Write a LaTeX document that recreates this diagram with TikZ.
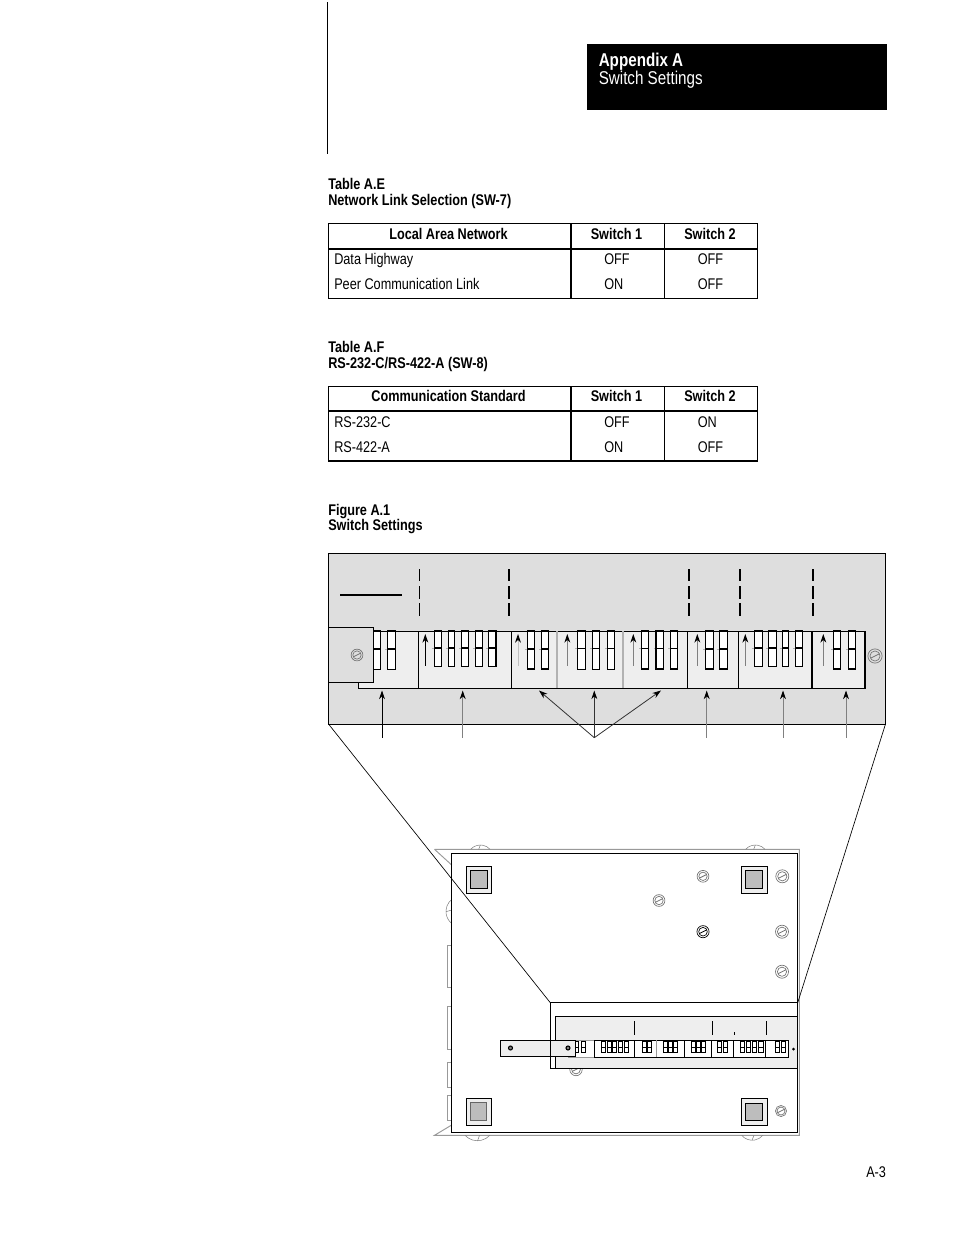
\documentclass[tikz,border=0pt]{standalone}
\usepackage{fontspec}
\setmainfont[FakeStretch=0.82]{Liberation Sans}
\usetikzlibrary{arrows.meta}
\definecolor{panelgray}{HTML}{DEDEDE}
\definecolor{striplight}{HTML}{EEEEEE}
\definecolor{padgray}{HTML}{BDBDBD}
\tikzset{
  txt/.style={anchor=base west,inner sep=0pt,font=\fontsize{11.6pt}{14pt}\selectfont},
  btxt/.style={txt,font=\fontsize{11.6pt}{14pt}\selectfont\bfseries},
  ctr/.style={anchor=base},
  rule/.style={line width=0.75pt},
  fat/.style={line width=1.5pt},
  dip/.style={draw=black,fill=white,line width=0.8pt},
  up/.style={-{Stealth[black,length=6.5pt,width=4.4pt]},line width=0.6pt},
  backline/.style={draw=black!40,line width=0.7pt},
  bump/.style={draw=black!50,line width=0.4pt},
  pics/screwhead/.style={code={
    \draw[#1,line width=0.5pt] (0,0) circle (6.2) (0,0) circle (4.4);
    \draw[#1,line width=0.6pt] (-4,2) -- (4,-2);
  }},
  pics/screwhead/.default=black!55
}
\begin{document}
\begin{tikzpicture}[x=0.75pt,y=-0.75pt]
  \useasboundingbox (0,0) rectangle (954,1235);
  % header
  \draw[rule] (327,2) -- (327,154);
  \fill[black] (587,44) rectangle (887,110);
  \node[btxt,white,font=\fontsize{13.9pt}{16pt}\selectfont\bfseries] (appx) at (598.5,66) {Appendix A};
  \node[txt,white,font=\fontsize{13.9pt}{16pt}\selectfont] (appxsub) at (598.5,84) {Switch Settings};
  % table E
  \node[btxt] (tabE) at (328,189) {Table A.E};
  \node[btxt] (tabEsub) at (328,205) {Network Link Selection (SW-7)};
  \draw[rule] (328.5,223.5) rectangle (757.5,298.5);
  \draw[fat] (328.5,249) -- (757.5,249) (571,223.5) -- (571,298.5);
  \draw[rule] (664.5,223.5) -- (664.5,298.5);
  \node[btxt,ctr] (eh1) at (448.5,239) {Local Area Network};
  \node[btxt,ctr] (eh2) at (616.5,239) {Switch 1};
  \node[btxt,ctr] (eh3) at (710,239) {Switch 2};
  \node[txt] (ea1) at (334,264) {Data Highway};
  \node[txt] (ea2) at (604,264) {OFF};
  \node[txt] (ea3) at (697.5,264) {OFF};
  \node[txt] (eb1) at (334,289) {Peer Communication Link};
  \node[txt] (eb2) at (604,289) {ON};
  \node[txt] (eb3) at (697.5,289) {OFF};
  % table F
  \node[btxt] (tabF) at (328,352) {Table A.F};
  \node[btxt] (tabFsub) at (328,368) {RS-232-C/RS-422-A (SW-8)};
  \draw[rule] (328.5,386.5) rectangle (757.5,461);
  \draw[fat] (328.5,411) -- (757.5,411) (571,386.5) -- (571,461) (328.5,461) -- (757.5,461);
  \draw[rule] (664.5,386.5) -- (664.5,461);
  \node[btxt,ctr] (fh1) at (448.5,401) {Communication Standard};
  \node[btxt,ctr] (fh2) at (616.5,401) {Switch 1};
  \node[btxt,ctr] (fh3) at (710,401) {Switch 2};
  \node[txt] (fa1) at (334,427) {RS-232-C};
  \node[txt] (fa2) at (604,427) {OFF};
  \node[txt] (fa3) at (697.5,427) {ON};
  \node[txt] (fb1) at (334,452) {RS-422-A};
  \node[txt] (fb2) at (604,452) {ON};
  \node[txt] (fb3) at (697.5,452) {OFF};
  % figure title
  \node[btxt] (fig) at (328,515) {Figure A.1};
  \node[btxt] (figsub) at (328,530) {Switch Settings};
  \node[txt] (pageno) at (866,1177) {A-3};
  % big panel
  \coordinate (panelNW) at (328.5,553.5);
  \coordinate (panelSE) at (885.5,724);
  \coordinate (panelSW) at (328.5,724);
  \draw[rule,fill=panelgray] (panelNW) rectangle (panelSE);
  \draw[fat] (340,595) -- (402,595);
  \foreach \xd/\wd in {419.5/0.6,509/1.4,689/1.4,740/1.4,813/1.4}
    \foreach \ya/\yb in {569/581,586/599,603/616}
      \draw[line width=\wd pt] (\xd,\ya) -- (\xd,\yb);
  \draw[rule,fill=striplight] (358.5,631) rectangle (865,688.3);
  \foreach \xd/\cd/\wd in {418.5/black/0.75,511/black/0.75,557/black!30/1,623/black!30/1,687.5/black/0.75,738.5/black/0.75,812/black/1.5,865/black/1.5}
    \draw[\cd,line width=\wd pt] (\xd,631) -- (\xd,688.3);
  \foreach \xa/\xb/\yb/\ym in {
    373.7/380.7/669.3/649,387.7/395.3/669.3/649,
    434.3/441.3/666.3/648,448.3/454.3/666.3/648,461.3/468.3/666.3/648,475.3/482.3/666.3/648,488.3/496/666.3/648,
    527.3/534.7/669/649,541.3/548.3/669/649,
    577.7/585.7/669.3/648.5,592.3/599.3/669.3/648.5,607.3/614.7/669.3/648.5,
    641.7/648.7/669/648.5,656/663.3/669/648.5,670.3/677.3/669/648.5,
    705.7/713.7/669/649,719.3/727.3/669/649,
    754.3/762.3/666.3/648,768.3/776.3/666.3/648,782.3/788.7/666.3/648,795.3/802.3/666.3/648,
    833.3/840.3/669/649,848.3/855.3/669/649}{
    \draw[black!30,line width=0.5pt] (\xa-2.5,\ym) -- (\xa,\ym);
    \draw[dip] (\xa,631) rectangle (\xb,\yb) (\xa,\ym) -- (\xb,\ym);
  }
  \foreach \xu/\cu [count=\i] in {425.3/black,518/black!25,567.3/black!50,633.3/black!50,697.3/black!50,745.3/black!50,823.3/black!50}{
    \coordinate (sw\i) at (\xu,665.7);
    \coordinate (swtip\i) at (\xu,634);
    \draw[up,\cu] (sw\i) -- (swtip\i);
  }
  % hinged bracket
  \draw[rule,fill=panelgray] (328.5,627) rectangle (373.5,682);
  \pic[scale=0.95] at (357,655) {screwhead};
  \pic[scale=1.15] at (875,656) {screwhead};
  % pointers
  \foreach \xp/\cp [count=\i] in {382/black,462.7/black!50,706.7/black!50,783/black!50,846/black!50}{
    \coordinate (ptr\i) at (\xp,737.7);
    \coordinate (ptrtip\i) at (\xp,690.5);
    \draw[up,\cp,line width=0.7pt] (ptr\i) -- (ptrtip\i);
  }
  \coordinate (fan) at (594.3,737.7);
  \coordinate (fanL) at (539,690.5);
  \coordinate (fanM) at (594.3,690.5);
  \coordinate (fanR) at (661,690.5);
  \draw[up,black!80] (fan) -- (fanL);
  \draw[up,black!80] (fan) -- (fanM);
  \draw[up,black!80] (fan) -- (fanR);
  % board behind
  \draw[backline] (434.5,849.3) -- (799.3,849.3) -- (799.3,1135.3) -- (434.5,1135.3) -- (451.7,1125);
  \draw[backline] (434.5,849.3) -- (451.7,865);
  \foreach \xb in {470.7,745.7}{
    \draw[bump] (\xb,849.3) arc (222:318:13);
    \draw[bump] (\xb+9.6,845) -- (\xb+8,849.3);
  }
  \draw[bump] (465,1135.3) arc (137:43:17);
  \draw[bump] (477.5,1141) -- (479.5,1135.3);
  \draw[bump] (741.7,1135.3) arc (140:40:13.8);
  \draw[bump] (752,1140.3) -- (754,1135.3);
  \draw[bump] (451.7,899.5) arc (231:129:15.4);
  \draw[bump] (446,911.7) -- (451.7,910);
  \foreach \ya/\yb in {945/987.7,1006/1049,1062/1087,1095/1120.7}
    \draw[black!40,line width=0.6pt,fill=white] (447.5,\ya) rectangle (451.7,\yb);
  % board
  \draw[line width=0.9pt] (451.7,853.3) rectangle (797.7,1132.7);
  \foreach \xa/\xb/\ya/\yb/\xc/\xd/\yc/\yd/\cc in {
    466.3/491.7/866.7/893.3/470.3/487.7/870/888.3/black,
    741.3/767.3/866.7/893.3/745.7/762.7/870/888.3/black,
    466.3/491.7/1098.3/1125.7/470.3/486.7/1102/1120.7/black!60,
    741.3/767.3/1098.3/1125.7/745.7/762.7/1103.3/1120.7/black}{
    \draw[rule,fill=striplight] (\xa,\ya) rectangle (\xb,\yb);
    \draw[rule,draw=\cc,fill=padgray] (\xc,\yc) rectangle (\xd,\yd);
  }
  \pic[scale=0.95] at (703,876.3) {screwhead};
  \pic[scale=1.05] at (782.3,876.3) {screwhead};
  \pic[scale=0.95] at (659,900.5) {screwhead};
  \pic[scale=0.98] at (703,931.7) {screwhead=black};
  \pic[scale=1.05] at (782,931.7) {screwhead};
  \pic[scale=1.05] at (782,971.7) {screwhead};
  \pic[scale=0.9] at (781,1111) {screwhead};
  \pic at (576,1069.5) {screwhead};
  % sub panel
  \coordinate (subNW) at (550.3,1002.7);
  \coordinate (subNE) at (797.7,1002.7);
  \draw[rule,fill=white] (subNW) rectangle (797.7,1068.7);
  \draw[rule,fill=striplight] (555.3,1016.7) rectangle (797.7,1068.7);
  \draw[line width=0.9pt] (550.3,1002.7) -- (550.3,1068.7) -- (797.7,1068.7);
  \draw[line width=0.9pt] (797.7,853.3) -- (797.7,1132.7);
  \draw[line width=0.5pt] (panelSW) -- (subNW);
  \draw[line width=0.5pt] (panelSE) -- (subNE);
  \foreach \xd/\ya/\yb in {634.3/1021/1035,712.3/1021/1035,734.5/1032/1035,766.7/1021/1035}
    \draw[line width=0.6pt] (\xd,\ya) -- (\xd,\yb);
  \fill[white] (568,1040) rectangle (788.7,1057.3);
  \draw[black!40,line width=0.6pt] (568,1040) -- (594.3,1040) (568,1057.3) -- (594.3,1057.3);
  \draw[line width=0.7pt] (594.3,1040) rectangle (788.7,1057.3);
  \foreach \xd/\cd in {634.3/black,656.7/black!40,684.3/black,711.3/black,733.3/black,765.3/black}
    \draw[\cd,line width=0.6pt] (\xd,1040) -- (\xd,1057.3);
  \foreach \xa/\xb in {
    574.3/578.3,581/585,601.7/605.7,607.2/611.2,612.8/616.8,618.3/622.3,623.9/627.9,
    642/646,647.6/651.6,663/667,668.2/672.2,673.5/677.5,691/695,696.5/700.5,701.8/705.8,
    717.3/721.3,723.3/727.3,740/744.6,746.2/750.4,752/756.4,758.4/763,775.3/779.3,781.5/785.5}
    \draw[line width=0.5pt,fill=white] (\xa,1041) rectangle (\xb,1052) (\xa,1047) -- (\xb,1047);
  \fill (793.5,1049) circle (1.5);
  % small bracket
  \draw[line width=0.7pt,fill=striplight] (500.3,1040.3) rectangle (575.7,1056.7);
  \draw[line width=0.7pt] (550.3,1040.3) -- (550.3,1056.7);
  \foreach \xs in {510.5,568}
    \draw[line width=0.8pt,fill=black!50] (\xs,1048) circle (2);
\end{tikzpicture}
\end{document}
